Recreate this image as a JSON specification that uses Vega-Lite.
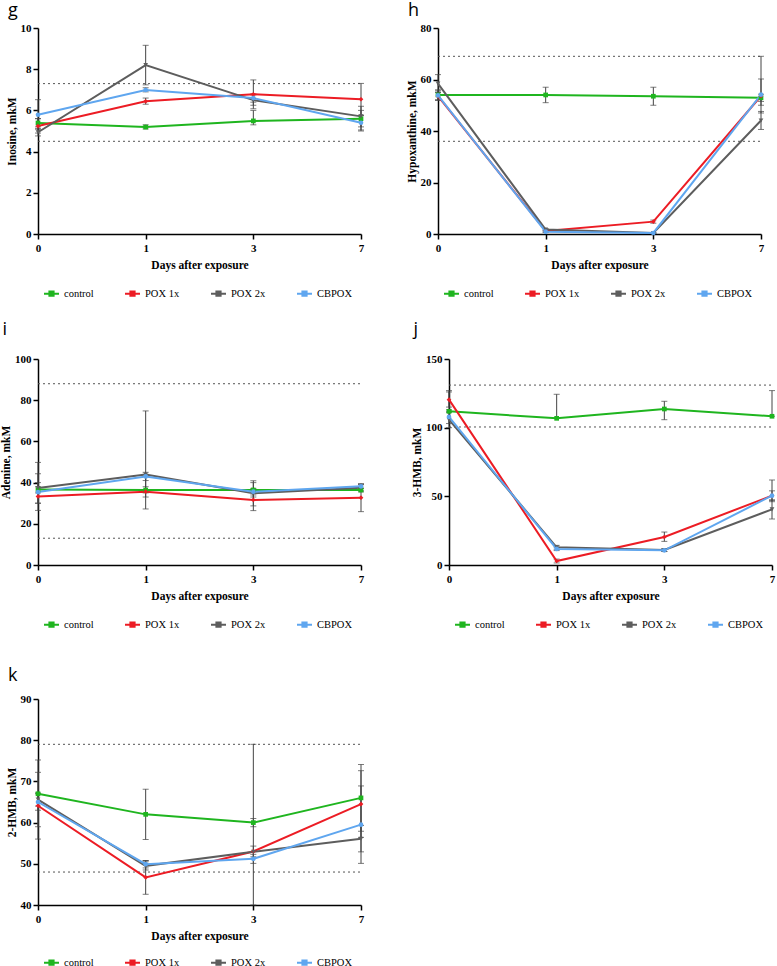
{
  "$schema": "https://vega.github.io/schema/vega-lite/v6.json",
  "background": "white",
  "padding": {"left": 0, "top": 2, "right": 2, "bottom": 2},
  "datasets": {
    "series": [
      {"panel": "g", "group": "control", "day": "0", "mean": 5.39, "lo": 5.2, "hi": 5.6},
      {"panel": "g", "group": "control", "day": "1", "mean": 5.19, "lo": 5.1, "hi": 5.3},
      {"panel": "g", "group": "control", "day": "3", "mean": 5.49, "lo": 5.3, "hi": 6.0},
      {"panel": "g", "group": "control", "day": "7", "mean": 5.6, "lo": 5.2, "hi": 6.0},
      {"panel": "g", "group": "POX 1x", "day": "0", "mean": 5.24, "lo": 4.9, "hi": 5.6},
      {"panel": "g", "group": "POX 1x", "day": "1", "mean": 6.44, "lo": 6.3, "hi": 6.6},
      {"panel": "g", "group": "POX 1x", "day": "3", "mean": 6.78, "lo": 6.08, "hi": 7.48},
      {"panel": "g", "group": "POX 1x", "day": "7", "mean": 6.54, "lo": 5.77, "hi": 7.31},
      {"panel": "g", "group": "POX 2x", "day": "0", "mean": 4.94, "lo": 4.76, "hi": 5.1},
      {"panel": "g", "group": "POX 2x", "day": "1", "mean": 8.2, "lo": 7.24, "hi": 9.16},
      {"panel": "g", "group": "POX 2x", "day": "3", "mean": 6.5, "lo": 6.25, "hi": 6.75},
      {"panel": "g", "group": "POX 2x", "day": "7", "mean": 5.71, "lo": 5.0, "hi": 6.2},
      {"panel": "g", "group": "CBPOX", "day": "0", "mean": 5.79, "lo": 5.1, "hi": 6.52},
      {"panel": "g", "group": "CBPOX", "day": "1", "mean": 6.99, "lo": 6.9, "hi": 7.1},
      {"panel": "g", "group": "CBPOX", "day": "3", "mean": 6.6, "lo": 6.4, "hi": 6.8},
      {"panel": "g", "group": "CBPOX", "day": "7", "mean": 5.4, "lo": 5.05, "hi": 5.75},

      {"panel": "h", "group": "control", "day": "0", "mean": 54.0, "lo": 52, "hi": 56},
      {"panel": "h", "group": "control", "day": "1", "mean": 54.0, "lo": 51, "hi": 57},
      {"panel": "h", "group": "control", "day": "3", "mean": 53.5, "lo": 50, "hi": 57},
      {"panel": "h", "group": "control", "day": "7", "mean": 52.9, "lo": 51.5, "hi": 54.3},
      {"panel": "h", "group": "POX 1x", "day": "0", "mean": 53.5, "lo": 52, "hi": 55},
      {"panel": "h", "group": "POX 1x", "day": "1", "mean": 1.2, "lo": 0.8, "hi": 1.6},
      {"panel": "h", "group": "POX 1x", "day": "3", "mean": 4.8, "lo": 4.2, "hi": 5.4},
      {"panel": "h", "group": "POX 1x", "day": "7", "mean": 53.6, "lo": 47, "hi": 60.2},
      {"panel": "h", "group": "POX 2x", "day": "0", "mean": 58.4, "lo": 55, "hi": 61.9},
      {"panel": "h", "group": "POX 2x", "day": "1", "mean": 1.7, "lo": 1.3, "hi": 2.1},
      {"panel": "h", "group": "POX 2x", "day": "3", "mean": 0.4, "lo": 0.2, "hi": 0.6},
      {"panel": "h", "group": "POX 2x", "day": "7", "mean": 44.1, "lo": 40.6, "hi": 47.6},
      {"panel": "h", "group": "CBPOX", "day": "0", "mean": 53.8, "lo": 52, "hi": 55.6},
      {"panel": "h", "group": "CBPOX", "day": "1", "mean": 0.9, "lo": 0.6, "hi": 1.2},
      {"panel": "h", "group": "CBPOX", "day": "3", "mean": 0.4, "lo": 0.2, "hi": 0.6},
      {"panel": "h", "group": "CBPOX", "day": "7", "mean": 54.1, "lo": 50, "hi": 69},

      {"panel": "i", "group": "control", "day": "0", "mean": 36.6, "lo": 35, "hi": 38},
      {"panel": "i", "group": "control", "day": "1", "mean": 36.4, "lo": 35, "hi": 38},
      {"panel": "i", "group": "control", "day": "3", "mean": 36.4, "lo": 33, "hi": 40},
      {"panel": "i", "group": "control", "day": "7", "mean": 36.4, "lo": 35.5, "hi": 37.3},
      {"panel": "i", "group": "POX 1x", "day": "0", "mean": 33.3, "lo": 26.5, "hi": 40},
      {"panel": "i", "group": "POX 1x", "day": "1", "mean": 35.6, "lo": 27.2, "hi": 44},
      {"panel": "i", "group": "POX 1x", "day": "3", "mean": 31.6, "lo": 26.4, "hi": 36.8},
      {"panel": "i", "group": "POX 1x", "day": "7", "mean": 32.7, "lo": 25.9, "hi": 39.5},
      {"panel": "i", "group": "POX 2x", "day": "0", "mean": 37.4, "lo": 30, "hi": 49.8},
      {"panel": "i", "group": "POX 2x", "day": "1", "mean": 43.9, "lo": 33, "hi": 74.8},
      {"panel": "i", "group": "POX 2x", "day": "3", "mean": 34.8, "lo": 28.7, "hi": 40.9},
      {"panel": "i", "group": "POX 2x", "day": "7", "mean": 37.5, "lo": 36, "hi": 39},
      {"panel": "i", "group": "CBPOX", "day": "0", "mean": 35.4, "lo": 30, "hi": 44.3},
      {"panel": "i", "group": "CBPOX", "day": "1", "mean": 43.0, "lo": 41, "hi": 45},
      {"panel": "i", "group": "CBPOX", "day": "3", "mean": 35.6, "lo": 34, "hi": 37.2},
      {"panel": "i", "group": "CBPOX", "day": "7", "mean": 38.2, "lo": 37.2, "hi": 39.2},

      {"panel": "j", "group": "control", "day": "0", "mean": 111.9, "lo": 111.9, "hi": 127},
      {"panel": "j", "group": "control", "day": "1", "mean": 106.8, "lo": 106.8, "hi": 124.3},
      {"panel": "j", "group": "control", "day": "3", "mean": 113.6, "lo": 105.8, "hi": 119.2},
      {"panel": "j", "group": "control", "day": "7", "mean": 108.3, "lo": 108.3, "hi": 127},
      {"panel": "j", "group": "POX 1x", "day": "0", "mean": 120.4, "lo": 115, "hi": 126},
      {"panel": "j", "group": "POX 1x", "day": "1", "mean": 2.9, "lo": 1.5, "hi": 4.3},
      {"panel": "j", "group": "POX 1x", "day": "3", "mean": 20.4, "lo": 17.2, "hi": 24},
      {"panel": "j", "group": "POX 1x", "day": "7", "mean": 50.5, "lo": 47, "hi": 54},
      {"panel": "j", "group": "POX 2x", "day": "0", "mean": 105.8, "lo": 100, "hi": 111},
      {"panel": "j", "group": "POX 2x", "day": "1", "mean": 12.9, "lo": 11.5, "hi": 14.3},
      {"panel": "j", "group": "POX 2x", "day": "3", "mean": 10.9, "lo": 9.8, "hi": 12},
      {"panel": "j", "group": "POX 2x", "day": "7", "mean": 40.5, "lo": 33.5, "hi": 47.5},
      {"panel": "j", "group": "CBPOX", "day": "0", "mean": 107.8, "lo": 103, "hi": 113},
      {"panel": "j", "group": "CBPOX", "day": "1", "mean": 11.7, "lo": 10.5, "hi": 13},
      {"panel": "j", "group": "CBPOX", "day": "3", "mean": 10.7, "lo": 9.8, "hi": 11.6},
      {"panel": "j", "group": "CBPOX", "day": "7", "mean": 50.5, "lo": 46.1, "hi": 61.9},

      {"panel": "k", "group": "control", "day": "0", "mean": 67.0, "lo": 59, "hi": 75.2},
      {"panel": "k", "group": "control", "day": "1", "mean": 62.0, "lo": 55.9, "hi": 68.1},
      {"panel": "k", "group": "control", "day": "3", "mean": 60.0, "lo": 59, "hi": 61},
      {"panel": "k", "group": "control", "day": "7", "mean": 66.0, "lo": 57.9, "hi": 74.1},
      {"panel": "k", "group": "POX 1x", "day": "0", "mean": 64.1, "lo": 56, "hi": 72.2},
      {"panel": "k", "group": "POX 1x", "day": "1", "mean": 46.7, "lo": 42.6, "hi": 50.8},
      {"panel": "k", "group": "POX 1x", "day": "3", "mean": 53.0, "lo": 51.7, "hi": 54.3},
      {"panel": "k", "group": "POX 1x", "day": "7", "mean": 64.5, "lo": 56.4, "hi": 72.6},
      {"panel": "k", "group": "POX 2x", "day": "0", "mean": 65.6, "lo": 64, "hi": 67.2},
      {"panel": "k", "group": "POX 2x", "day": "1", "mean": 49.5, "lo": 48.5, "hi": 50.5},
      {"panel": "k", "group": "POX 2x", "day": "3", "mean": 52.9, "lo": 40, "hi": 79},
      {"panel": "k", "group": "POX 2x", "day": "7", "mean": 56.1, "lo": 52.9, "hi": 59.3},
      {"panel": "k", "group": "CBPOX", "day": "0", "mean": 65.0, "lo": 63, "hi": 67},
      {"panel": "k", "group": "CBPOX", "day": "1", "mean": 49.9, "lo": 49, "hi": 50.8},
      {"panel": "k", "group": "CBPOX", "day": "3", "mean": 51.2, "lo": 50.1, "hi": 52.3},
      {"panel": "k", "group": "CBPOX", "day": "7", "mean": 59.5, "lo": 50.1, "hi": 68.9}
    ],
    "refs": [
      {"panel": "g", "ref": 7.3}, {"panel": "g", "ref": 4.5},
      {"panel": "h", "ref": 69}, {"panel": "h", "ref": 36},
      {"panel": "i", "ref": 88}, {"panel": "i", "ref": 13},
      {"panel": "j", "ref": 131}, {"panel": "j", "ref": 100.5},
      {"panel": "k", "ref": 79}, {"panel": "k", "ref": 48}
    ]
  },
  "spacing": 16,
  "resolve": {"scale": {"color": "independent"}, "legend": {"color": "independent"}},
  "vconcat": [
    {
      "spacing": 41,
      "resolve": {"scale": {"color": "independent"}, "legend": {"color": "independent"}},
      "hconcat": [
        {
          "title": {"text": "g", "offset": 2},
          "width": 323, "height": 206,
          "data": {"name": "series"},
          "transform": [{"filter": "datum.panel === 'g'"}],
          "encoding": {
            "x": {"field": "day", "type": "ordinal", "title": "Days after exposure",
                  "scale": {"type": "point", "padding": 0, "domain": ["0", "1", "3", "7"]}}
          },
          "layer": [
            {"data": {"name": "refs"}, "transform": [{"filter": "datum.panel === 'g'"}],
             "mark": {"type": "rule", "strokeDash": [2, 3], "color": "#555555", "strokeWidth": 1},
             "encoding": {"x": {"datum": "0"}, "x2": {"datum": "7"},
                          "y": {"field": "ref", "type": "quantitative", "title": "Inosine, mkM", "scale": {"domain": [0, 10], "nice": false}}}},
            {"mark": {"type": "rule", "color": "#444444", "strokeWidth": 1},
             "encoding": {"y": {"field": "lo", "type": "quantitative", "title": "Inosine, mkM", "scale": {"domain": [0, 10], "nice": false}}, "y2": {"field": "hi"}}},
            {"mark": {"type": "tick", "color": "#444444", "thickness": 1, "size": 6},
             "encoding": {"y": {"field": "hi", "type": "quantitative", "title": "Inosine, mkM"}}},
            {"mark": {"type": "tick", "color": "#444444", "thickness": 1, "size": 6},
             "encoding": {"y": {"field": "lo", "type": "quantitative", "title": "Inosine, mkM"}}},
            {"mark": {"type": "line", "strokeWidth": 2},
             "encoding": {
               "y": {"field": "mean", "type": "quantitative", "title": "Inosine, mkM",
                     "scale": {"domain": [0, 10], "nice": false}, "axis": {"values": [0, 2, 4, 6, 8, 10]}},
               "color": {"field": "group", "type": "nominal",
                         "scale": {"domain": ["control", "POX 1x", "POX 2x", "CBPOX"], "range": ["#1fb51f", "#ec1c24", "#5d5d5d", "#5fa6ef"]},
                         "legend": {"title": null, "orient": "bottom", "direction": "horizontal", "offset": 9, "padding": 5,
                                    "labelFont": "Liberation Serif", "labelFontSize": 10.5, "labelColor": "#000000", "labelOffset": 4,
                                    "symbolType": "M-1,0H1M-0.28,-0.28H0.28V0.28H-0.28Z", "symbolSize": 225, "symbolStrokeWidth": 2, "columnPadding": 27}}}},
            {"mark": {"type": "point", "filled": true, "size": 22, "opacity": 1},
             "encoding": {
               "y": {"field": "mean", "type": "quantitative", "title": "Inosine, mkM"},
               "color": {"field": "group", "type": "nominal"},
               "shape": {"condition": [{"test": "datum.group === 'control'", "value": "square"}, {"test": "datum.group === 'POX 1x'", "value": "diamond"}, {"test": "datum.group === 'POX 2x'", "value": "triangle-down"}], "value": "circle"}}}
          ]
        },
        {
          "title": {"text": "h", "offset": 2},
          "width": 323, "height": 206,
          "data": {"name": "series"},
          "transform": [{"filter": "datum.panel === 'h'"}],
          "encoding": {
            "x": {"field": "day", "type": "ordinal", "title": "Days after exposure",
                  "scale": {"type": "point", "padding": 0, "domain": ["0", "1", "3", "7"]}}
          },
          "layer": [
            {"data": {"name": "refs"}, "transform": [{"filter": "datum.panel === 'h'"}],
             "mark": {"type": "rule", "strokeDash": [2, 3], "color": "#555555", "strokeWidth": 1},
             "encoding": {"x": {"datum": "0"}, "x2": {"datum": "7"},
                          "y": {"field": "ref", "type": "quantitative", "title": "Hypoxanthine, mkM", "scale": {"domain": [0, 80], "nice": false}}}},
            {"mark": {"type": "rule", "color": "#444444", "strokeWidth": 1},
             "encoding": {"y": {"field": "lo", "type": "quantitative", "title": "Hypoxanthine, mkM", "scale": {"domain": [0, 80], "nice": false}}, "y2": {"field": "hi"}}},
            {"mark": {"type": "tick", "color": "#444444", "thickness": 1, "size": 6},
             "encoding": {"y": {"field": "hi", "type": "quantitative", "title": "Hypoxanthine, mkM"}}},
            {"mark": {"type": "tick", "color": "#444444", "thickness": 1, "size": 6},
             "encoding": {"y": {"field": "lo", "type": "quantitative", "title": "Hypoxanthine, mkM"}}},
            {"mark": {"type": "line", "strokeWidth": 2},
             "encoding": {
               "y": {"field": "mean", "type": "quantitative", "title": "Hypoxanthine, mkM",
                     "scale": {"domain": [0, 80], "nice": false}, "axis": {"values": [0, 20, 40, 60, 80]}},
               "color": {"field": "group", "type": "nominal",
                         "scale": {"domain": ["control", "POX 1x", "POX 2x", "CBPOX"], "range": ["#1fb51f", "#ec1c24", "#5d5d5d", "#5fa6ef"]},
                         "legend": {"title": null, "orient": "bottom", "direction": "horizontal", "offset": 9, "padding": 5,
                                    "labelFont": "Liberation Serif", "labelFontSize": 10.5, "labelColor": "#000000", "labelOffset": 4,
                                    "symbolType": "M-1,0H1M-0.28,-0.28H0.28V0.28H-0.28Z", "symbolSize": 225, "symbolStrokeWidth": 2, "columnPadding": 27}}}},
            {"mark": {"type": "point", "filled": true, "size": 22, "opacity": 1},
             "encoding": {
               "y": {"field": "mean", "type": "quantitative", "title": "Hypoxanthine, mkM"},
               "color": {"field": "group", "type": "nominal"},
               "shape": {"condition": [{"test": "datum.group === 'control'", "value": "square"}, {"test": "datum.group === 'POX 1x'", "value": "diamond"}, {"test": "datum.group === 'POX 2x'", "value": "triangle-down"}], "value": "circle"}}}
          ]
        }
      ]
    },
    {
      "spacing": 31,
      "resolve": {"scale": {"color": "independent"}, "legend": {"color": "independent"}},
      "vconcat": [
        {
          "spacing": 46,
          "resolve": {"scale": {"color": "independent"}, "legend": {"color": "independent"}},
          "hconcat": [
            {
              "title": {"text": "i", "offset": 14},
              "width": 323, "height": 206,
              "data": {"name": "series"},
              "transform": [{"filter": "datum.panel === 'i'"}],
              "encoding": {
                "x": {"field": "day", "type": "ordinal", "title": "Days after exposure",
                      "scale": {"type": "point", "padding": 0, "domain": ["0", "1", "3", "7"]}}
              },
              "layer": [
                {"data": {"name": "refs"}, "transform": [{"filter": "datum.panel === 'i'"}],
                 "mark": {"type": "rule", "strokeDash": [2, 3], "color": "#555555", "strokeWidth": 1},
                 "encoding": {"x": {"datum": "0"}, "x2": {"datum": "7"},
                              "y": {"field": "ref", "type": "quantitative", "title": "Adenine, mkM", "scale": {"domain": [0, 100], "nice": false}}}},
                {"mark": {"type": "rule", "color": "#444444", "strokeWidth": 1},
                 "encoding": {"y": {"field": "lo", "type": "quantitative", "title": "Adenine, mkM", "scale": {"domain": [0, 100], "nice": false}}, "y2": {"field": "hi"}}},
                {"mark": {"type": "tick", "color": "#444444", "thickness": 1, "size": 6},
                 "encoding": {"y": {"field": "hi", "type": "quantitative", "title": "Adenine, mkM"}}},
                {"mark": {"type": "tick", "color": "#444444", "thickness": 1, "size": 6},
                 "encoding": {"y": {"field": "lo", "type": "quantitative", "title": "Adenine, mkM"}}},
                {"mark": {"type": "line", "strokeWidth": 2},
                 "encoding": {
                   "y": {"field": "mean", "type": "quantitative", "title": "Adenine, mkM",
                         "scale": {"domain": [0, 100], "nice": false}, "axis": {"values": [0, 20, 40, 60, 80, 100]}},
                   "color": {"field": "group", "type": "nominal",
                             "scale": {"domain": ["control", "POX 1x", "POX 2x", "CBPOX"], "range": ["#1fb51f", "#ec1c24", "#5d5d5d", "#5fa6ef"]},
                             "legend": {"title": null, "orient": "bottom", "direction": "horizontal", "offset": 9, "padding": 5,
                                        "labelFont": "Liberation Serif", "labelFontSize": 10.5, "labelColor": "#000000", "labelOffset": 4,
                                        "symbolType": "M-1,0H1M-0.28,-0.28H0.28V0.28H-0.28Z", "symbolSize": 225, "symbolStrokeWidth": 2, "columnPadding": 27}}}},
                {"mark": {"type": "point", "filled": true, "size": 22, "opacity": 1},
                 "encoding": {
                   "y": {"field": "mean", "type": "quantitative", "title": "Adenine, mkM"},
                   "color": {"field": "group", "type": "nominal"},
                   "shape": {"condition": [{"test": "datum.group === 'control'", "value": "square"}, {"test": "datum.group === 'POX 1x'", "value": "diamond"}, {"test": "datum.group === 'POX 2x'", "value": "triangle-down"}], "value": "circle"}}}
              ]
            },
            {
              "title": {"text": "j", "offset": 14},
              "width": 323, "height": 206,
              "data": {"name": "series"},
              "transform": [{"filter": "datum.panel === 'j'"}],
              "encoding": {
                "x": {"field": "day", "type": "ordinal", "title": "Days after exposure",
                      "scale": {"type": "point", "padding": 0, "domain": ["0", "1", "3", "7"]}}
              },
              "layer": [
                {"data": {"name": "refs"}, "transform": [{"filter": "datum.panel === 'j'"}],
                 "mark": {"type": "rule", "strokeDash": [2, 3], "color": "#555555", "strokeWidth": 1},
                 "encoding": {"x": {"datum": "0"}, "x2": {"datum": "7"},
                              "y": {"field": "ref", "type": "quantitative", "title": "3-HMB, mkM", "scale": {"domain": [0, 150], "nice": false}}}},
                {"mark": {"type": "rule", "color": "#444444", "strokeWidth": 1},
                 "encoding": {"y": {"field": "lo", "type": "quantitative", "title": "3-HMB, mkM", "scale": {"domain": [0, 150], "nice": false}}, "y2": {"field": "hi"}}},
                {"mark": {"type": "tick", "color": "#444444", "thickness": 1, "size": 6},
                 "encoding": {"y": {"field": "hi", "type": "quantitative", "title": "3-HMB, mkM"}}},
                {"mark": {"type": "tick", "color": "#444444", "thickness": 1, "size": 6},
                 "encoding": {"y": {"field": "lo", "type": "quantitative", "title": "3-HMB, mkM"}}},
                {"mark": {"type": "line", "strokeWidth": 2},
                 "encoding": {
                   "y": {"field": "mean", "type": "quantitative", "title": "3-HMB, mkM",
                         "scale": {"domain": [0, 150], "nice": false}, "axis": {"values": [0, 50, 100, 150]}},
                   "color": {"field": "group", "type": "nominal",
                             "scale": {"domain": ["control", "POX 1x", "POX 2x", "CBPOX"], "range": ["#1fb51f", "#ec1c24", "#5d5d5d", "#5fa6ef"]},
                             "legend": {"title": null, "orient": "bottom", "direction": "horizontal", "offset": 9, "padding": 5,
                                        "labelFont": "Liberation Serif", "labelFontSize": 10.5, "labelColor": "#000000", "labelOffset": 4,
                                        "symbolType": "M-1,0H1M-0.28,-0.28H0.28V0.28H-0.28Z", "symbolSize": 225, "symbolStrokeWidth": 2, "columnPadding": 27}}}},
                {"mark": {"type": "point", "filled": true, "size": 22, "opacity": 1},
                 "encoding": {
                   "y": {"field": "mean", "type": "quantitative", "title": "3-HMB, mkM"},
                   "color": {"field": "group", "type": "nominal"},
                   "shape": {"condition": [{"test": "datum.group === 'control'", "value": "square"}, {"test": "datum.group === 'POX 1x'", "value": "diamond"}, {"test": "datum.group === 'POX 2x'", "value": "triangle-down"}], "value": "circle"}}}
              ]
            }
          ]
        },
        {
          "title": {"text": "k", "offset": 8},
          "width": 323, "height": 206,
          "data": {"name": "series"},
          "transform": [{"filter": "datum.panel === 'k'"}],
          "encoding": {
            "x": {"field": "day", "type": "ordinal", "title": "Days after exposure",
                  "scale": {"type": "point", "padding": 0, "domain": ["0", "1", "3", "7"]}}
          },
          "layer": [
            {"data": {"name": "refs"}, "transform": [{"filter": "datum.panel === 'k'"}],
             "mark": {"type": "rule", "strokeDash": [2, 3], "color": "#555555", "strokeWidth": 1},
             "encoding": {"x": {"datum": "0"}, "x2": {"datum": "7"},
                          "y": {"field": "ref", "type": "quantitative", "title": "2-HMB, mkM", "scale": {"domain": [40, 90], "nice": false}}}},
            {"mark": {"type": "rule", "color": "#444444", "strokeWidth": 1},
             "encoding": {"y": {"field": "lo", "type": "quantitative", "title": "2-HMB, mkM", "scale": {"domain": [40, 90], "nice": false}}, "y2": {"field": "hi"}}},
            {"mark": {"type": "tick", "color": "#444444", "thickness": 1, "size": 6},
             "encoding": {"y": {"field": "hi", "type": "quantitative", "title": "2-HMB, mkM"}}},
            {"mark": {"type": "tick", "color": "#444444", "thickness": 1, "size": 6},
             "encoding": {"y": {"field": "lo", "type": "quantitative", "title": "2-HMB, mkM"}}},
            {"mark": {"type": "line", "strokeWidth": 2},
             "encoding": {
               "y": {"field": "mean", "type": "quantitative", "title": "2-HMB, mkM",
                     "scale": {"domain": [40, 90], "nice": false}, "axis": {"values": [40, 50, 60, 70, 80, 90]}},
               "color": {"field": "group", "type": "nominal",
                         "scale": {"domain": ["control", "POX 1x", "POX 2x", "CBPOX"], "range": ["#1fb51f", "#ec1c24", "#5d5d5d", "#5fa6ef"]},
                         "legend": {"title": null, "orient": "bottom", "direction": "horizontal", "offset": 7, "padding": 5,
                                    "labelFont": "Liberation Serif", "labelFontSize": 10.5, "labelColor": "#000000", "labelOffset": 4,
                                    "symbolType": "M-1,0H1M-0.28,-0.28H0.28V0.28H-0.28Z", "symbolSize": 225, "symbolStrokeWidth": 2, "columnPadding": 27}}}},
            {"mark": {"type": "point", "filled": true, "size": 22, "opacity": 1},
             "encoding": {
               "y": {"field": "mean", "type": "quantitative", "title": "2-HMB, mkM"},
               "color": {"field": "group", "type": "nominal"},
               "shape": {"condition": [{"test": "datum.group === 'control'", "value": "square"}, {"test": "datum.group === 'POX 1x'", "value": "diamond"}, {"test": "datum.group === 'POX 2x'", "value": "triangle-down"}], "value": "circle"}}}
          ]
        }
      ]
    }
  ],
  "config": {
    "view": {"stroke": null},
    "title": {"anchor": "start", "font": "Open Sans", "fontSize": 18, "fontWeight": "normal", "color": "#000000", "dx": 2},
    "axis": {
      "grid": false, "domainColor": "#000000", "domainWidth": 1.5, "tickColor": "#000000", "tickWidth": 1.5, "tickSize": 5,
      "labelFont": "Liberation Serif", "labelFontWeight": "bold", "labelFontSize": 11, "labelColor": "#000000",
      "titleFont": "Liberation Serif", "titleFontWeight": "bold", "titleFontSize": 11.5, "titleColor": "#000000"
    },
    "axisX": {"labelAngle": 0, "titlePadding": 6, "labelPadding": 3},
    "axisY": {"titlePadding": 3, "labelPadding": 2}
  }
}
